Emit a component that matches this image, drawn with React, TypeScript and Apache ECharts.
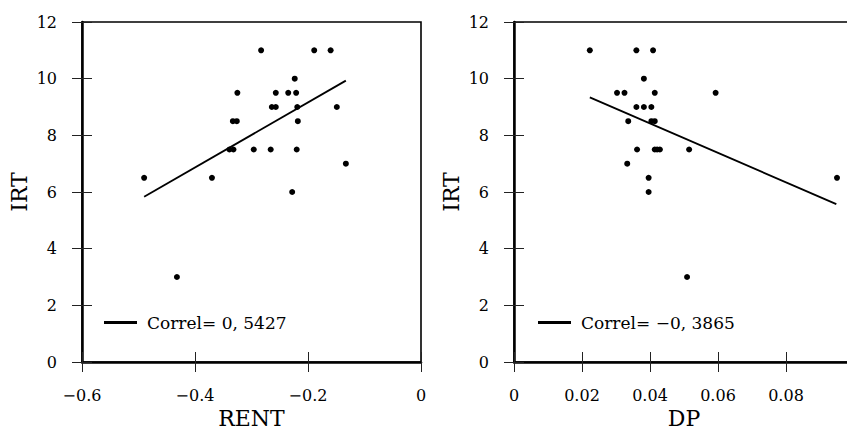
import React, { useEffect, useRef } from "react";
import * as echarts from "echarts";

// Left panel: RENT vs IRT
const rentX = [-0.49, -0.37, -0.283, -0.189, -0.16, -0.2235, -0.325, -0.257, -0.235, -0.221, -0.264, -0.257, -0.219, -0.149, -0.333, -0.326, -0.218, -0.339, -0.332, -0.296, -0.266, -0.22, -0.133, -0.228, -0.432];
const rentIRT = [6.5, 6.5, 11, 11, 11, 10, 9.5, 9.5, 9.5, 9.5, 9, 9, 9, 9, 8.5, 8.5, 8.5, 7.5, 7.5, 7.5, 7.5, 7.5, 7, 6, 3];
const rentFitX = [-0.49, -0.133];
const rentFitY = [5.83, 9.93];
const rentLabel = "Correl= 0, 5427";

// Right panel: DP vs IRT
const dpX = [0.0223, 0.036, 0.0409, 0.0382, 0.0303, 0.0325, 0.0414, 0.0593, 0.036, 0.0382, 0.0404, 0.0336, 0.0404, 0.0414, 0.0362, 0.0414, 0.0421, 0.0429, 0.0515, 0.0333, 0.0396, 0.095, 0.0396, 0.0509];
const dpIRT = [11, 11, 11, 10, 9.5, 9.5, 9.5, 9.5, 9, 9, 9, 8.5, 8.5, 8.5, 7.5, 7.5, 7.5, 7.5, 7.5, 7, 6.5, 6.5, 6, 3];
const dpFitX = [0.0223, 0.0948];
const dpFitY = [9.34, 5.57];
const dpLabel = "Correl= \u22120, 3865";

const FONT = "DejaVu Serif";
const INK = "#000";

const fmt = (v: number) => {
  const r = parseFloat(Number(v).toFixed(4));
  return r < 0 ? "\u2212" + String(Math.abs(r)) : String(r);
};

const pairs = (xs: number[], ys: number[]) => xs.map((x, i) => [x, ys[i]]);

export default function App() {
  const ref = useRef<HTMLDivElement>(null);
  useEffect(() => {
    if (!ref.current) return;
    const chart = echarts.init(ref.current, undefined, { renderer: "svg" });
    const labelStyle = { color: INK, fontFamily: FONT, fontSize: 16 };
    const nameStyle = { color: INK, fontFamily: FONT, fontSize: 22 };
    const tickOut = { show: true, inside: false, length: 10, lineStyle: { color: "#222", width: 1 } };
    const tickIn = { show: true, inside: true, length: 10, lineStyle: { color: "#222", width: 1 } };

    const xMain = (grid: number, min: number, max: number, interval: number, name: string, hideMax: boolean) => ({
      type: "value",
      gridIndex: grid,
      min,
      max,
      interval,
      position: "bottom",
      name,
      nameLocation: "middle",
      nameGap: 41,
      nameTextStyle: nameStyle,
      axisLine: { show: true, onZero: false, lineStyle: { color: INK, width: 2.5 } },
      axisTick: tickOut,
      axisLabel: { ...labelStyle, margin: 25, formatter: fmt, showMaxLabel: !hideMax },
      splitLine: { show: false },
    });
    const xInner = (grid: number, min: number, max: number, interval: number) => ({
      type: "value",
      gridIndex: grid,
      min,
      max,
      interval,
      position: "bottom",
      axisLine: { show: false, onZero: false },
      axisTick: tickIn,
      axisLabel: { show: false },
      splitLine: { show: false },
    });
    const yMain = (grid: number) => ({
      type: "value",
      gridIndex: grid,
      min: 0,
      max: 12,
      interval: 2,
      position: "left",
      name: "IRT",
      nameLocation: "middle",
      nameGap: 52,
      nameTextStyle: nameStyle,
      axisLine: { show: true, onZero: false, lineStyle: { color: INK, width: 2.5 } },
      axisTick: tickOut,
      axisLabel: { ...labelStyle, margin: 25, formatter: fmt },
      splitLine: { show: false },
    });
    const yInner = (grid: number) => ({
      type: "value",
      gridIndex: grid,
      min: 0,
      max: 12,
      interval: 2,
      position: "left",
      axisLine: { show: false, onZero: false },
      axisTick: tickIn,
      axisLabel: { show: false },
      splitLine: { show: false },
    });

    const legend = (left: number, name: string) => ({
      show: true,
      left,
      top: 314,
      padding: 0,
      orient: "horizontal",
      icon: "rect",
      itemWidth: 33,
      itemHeight: 3,
      data: [name],
      itemStyle: { color: INK },
      textStyle: { color: INK, fontFamily: FONT, fontSize: 17, padding: [0, 0, 0, 5] },
    });

    const gridBase = {
      top: 22,
      height: 340,
      show: true,
      borderColor: INK,
      borderWidth: 1.6,
      backgroundColor: "transparent",
      containLabel: false,
      outerBoundsMode: "none",
    };

    chart.setOption({
      animation: false,
      backgroundColor: "#fff",
      textStyle: { fontFamily: FONT },
      grid: [
        { ...gridBase, left: 82, width: 339 },
        { ...gridBase, left: 514, width: 340 },
      ],
      xAxis: [
        xMain(0, -0.6, 0, 0.2, "RENT", false),
        xInner(0, -0.6, 0, 0.2),
        xMain(1, 0, 0.1, 0.02, "DP", true),
        xInner(1, 0, 0.1, 0.02),
      ],
      yAxis: [yMain(0), yInner(0), yMain(1), yInner(1)],
      legend: [legend(104, rentLabel), legend(538, dpLabel)],
      series: [
        {
          type: "scatter",
          xAxisIndex: 0,
          yAxisIndex: 0,
          symbolSize: 6,
          itemStyle: { color: INK, opacity: 1 },
          data: pairs(rentX, rentIRT),
        },
        {
          type: "line",
          name: rentLabel,
          xAxisIndex: 0,
          yAxisIndex: 0,
          symbol: "none",
          lineStyle: { color: INK, width: 1.8 },
          itemStyle: { color: INK },
          data: pairs(rentFitX, rentFitY),
        },
        {
          type: "scatter",
          xAxisIndex: 2,
          yAxisIndex: 2,
          symbolSize: 6,
          itemStyle: { color: INK, opacity: 1 },
          data: pairs(dpX, dpIRT),
        },
        {
          type: "line",
          name: dpLabel,
          xAxisIndex: 2,
          yAxisIndex: 2,
          symbol: "none",
          lineStyle: { color: INK, width: 1.8 },
          itemStyle: { color: INK },
          data: pairs(dpFitX, dpFitY),
        },
      ],
    });
    return () => chart.dispose();
  }, []);
  return <div ref={ref} style={{ position: "fixed", left: 0, top: 0, width: 847, height: 430 }} />;
}
